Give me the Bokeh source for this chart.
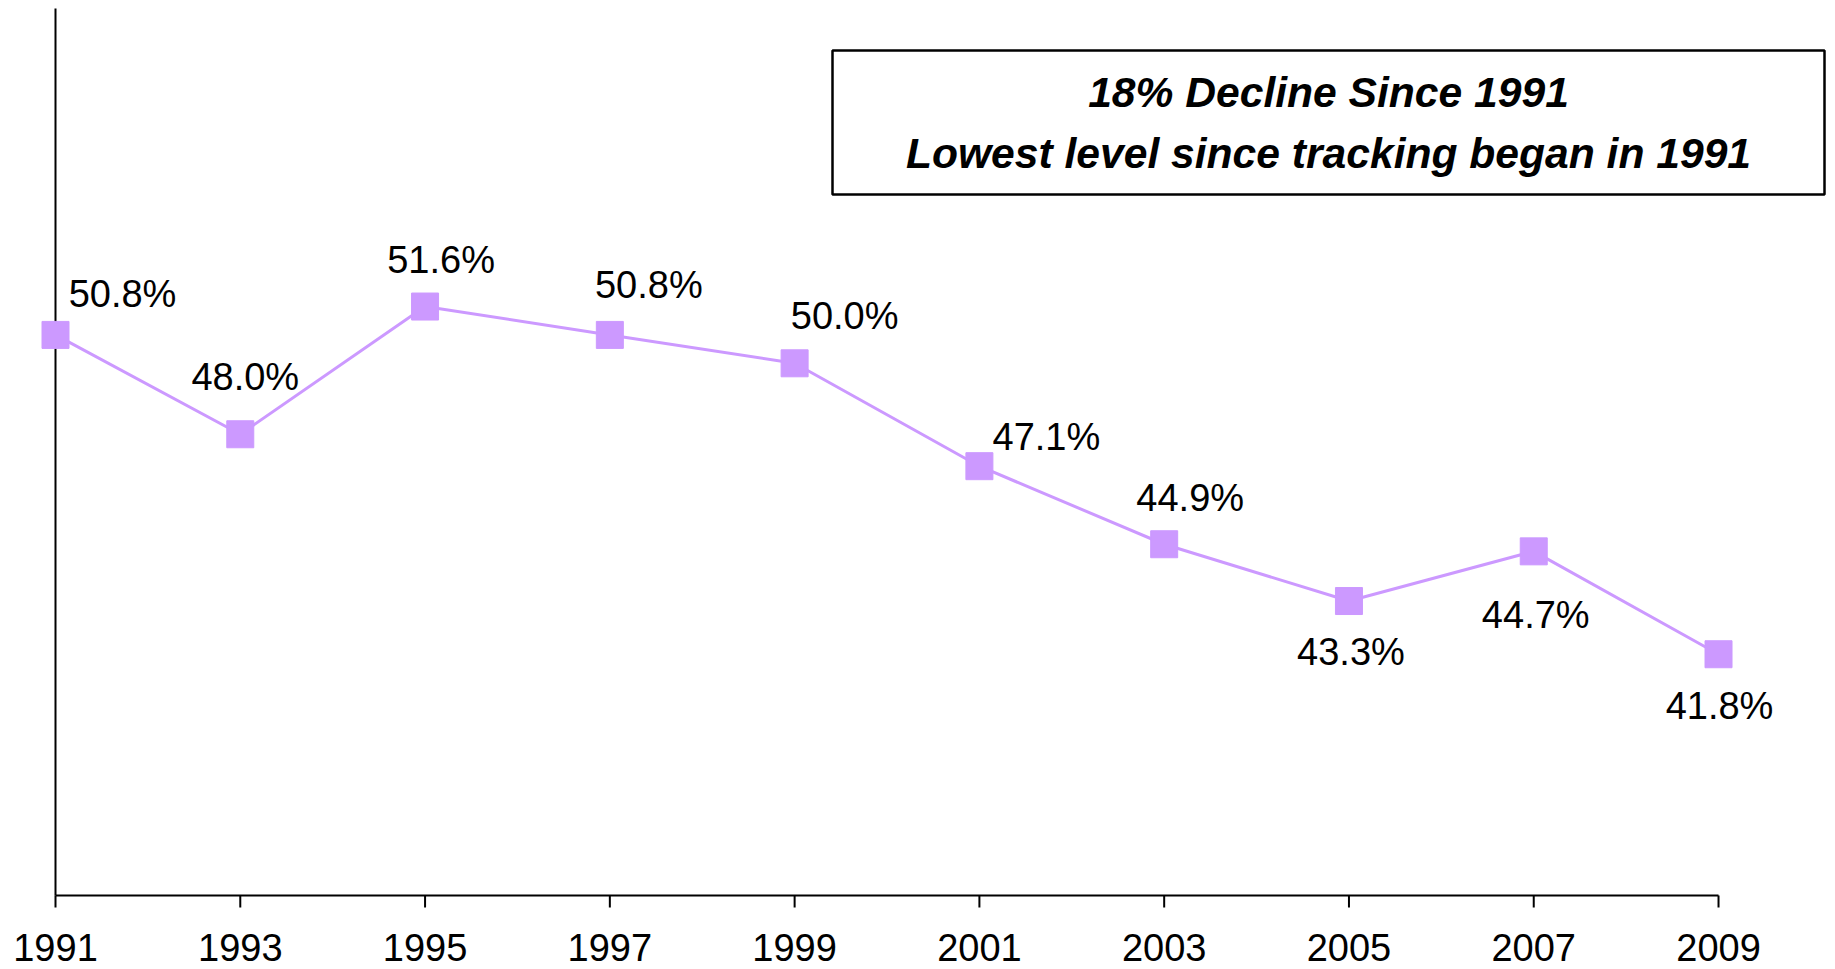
from bokeh.plotting import figure
from bokeh.models import Range1d, BoxAnnotation, ColumnDataSource
from bokeh.core.properties import value
from bokeh.embed import file_html
from bokeh.resources import INLINE

# ---- data ----
years = [1991, 1993, 1995, 1997, 1999, 2001, 2003, 2005, 2007, 2009]
rates = [50.8, 48.0, 51.6, 50.8, 50.0, 47.1, 44.9, 43.3, 44.7, 41.8]
tick_labels = [str(y) for y in years]
rate_labels = [f"{v:.1f}%" for v in rates]
box_lines = ["18% Decline Since 1991", "Lowest level since tracking began in 1991"]
Y_MIN, Y_MAX = 35, 60

# ---- layout (screen px) ----
W, H = 1835, 969
PX_PER_YEAR = 92.39
PX_PER_UNIT = 35.48
LEFT_PAD = 55      # px from left edge to the 1991 tick
TOP_PAD = 8        # px from top edge to Y_MAX
x_start = years[0] - LEFT_PAD / PX_PER_YEAR
x_end = x_start + W / PX_PER_YEAR
y_end = Y_MAX + TOP_PAD / PX_PER_UNIT
y_start = y_end - H / PX_PER_UNIT

# label offsets in px (right, down)
lab_dx = [67, 5, 16, 39, 50, 67, 26, 2, 2, 1]
lab_dy = [-41, -57, -47, -50, -47, -29, -46, 51, 64, 52]

FONT = "Liberation Sans"
PURPLE = "#CC99FF"

p = figure(width=W, height=H, output_backend="svg", toolbar_location=None,
           x_axis_location=None, y_axis_location=None,
           x_range=Range1d(x_start, x_end), y_range=Range1d(y_start, y_end),
           min_border=0, outline_line_color=None,
           background_fill_color="white", border_fill_color="white")
p.grid.visible = False

# axes drawn as segments
p.segment(x0=[years[0]], y0=[Y_MIN], x1=[years[0]], y1=[Y_MAX], line_color="black", line_width=2)
p.segment(x0=[years[0]], y0=[Y_MIN], x1=[years[-1]], y1=[Y_MIN], line_color="black", line_width=2)
p.segment(x0=years, y0=[Y_MIN] * len(years), x1=years,
          y1=[Y_MIN - 12 / PX_PER_UNIT] * len(years), line_color="black", line_width=2)
p.text(x=years, y=[Y_MIN] * len(years), text=tick_labels, y_offset=52,
       text_align="center", text_baseline="middle",
       text_font=value(FONT), text_font_size="38px", text_color="black")

# series
src = ColumnDataSource(dict(x=years, y=rates, lab=rate_labels, dx=lab_dx, dy=lab_dy))
p.line("x", "y", source=src, line_color=PURPLE, line_width=3)
p.scatter("x", "y", source=src, marker="square", size=27, fill_color=PURPLE, line_color=PURPLE)
p.text("x", "y", text="lab", source=src, x_offset="dx", y_offset="dy",
       text_align="center", text_baseline="middle",
       text_font=value(FONT), text_font_size="38px", text_color="black")

# annotation box (page px: x 832..1824, y 50..194)
bx0 = x_start + 832 / PX_PER_YEAR
bx1 = x_start + 1824 / PX_PER_YEAR
by1 = y_end - 50 / PX_PER_UNIT
by0 = y_end - 194 / PX_PER_UNIT
p.add_layout(BoxAnnotation(left=bx0, right=bx1, bottom=by0, top=by1,
                           fill_color="white", fill_alpha=1.0,
                           line_color="black", line_alpha=1.0, line_width=2.5,
                           level="annotation"))
bxc = (bx0 + bx1) / 2
p.text(x=[bxc, bxc], y=[y_end - 91 / PX_PER_UNIT, y_end - 152 / PX_PER_UNIT], text=box_lines,
       text_align="center", text_baseline="middle", text_font=value(FONT),
       text_font_style="bold italic", text_font_size="42.6px", text_color="black",
       level="overlay")

open("out.html", "w").write(file_html(p, INLINE))
